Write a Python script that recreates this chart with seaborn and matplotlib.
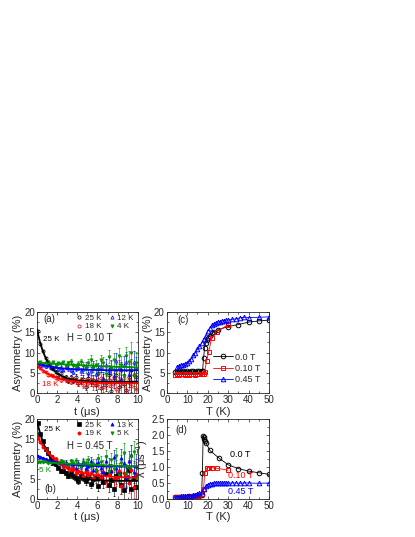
import matplotlib
matplotlib.use("Agg")
import matplotlib.pyplot as plt
import seaborn as sns
from matplotlib.ticker import MultipleLocator

# --- muSR time spectra ---
t = [0.1, 0.35, 0.6, 0.85, 1.1, 1.35, 1.6, 1.85, 2.1, 2.35, 2.6, 2.85, 3.1, 3.35, 3.6, 3.85,
     4.1, 4.35, 4.6, 4.85, 5.1, 5.35, 5.6, 5.85, 6.1, 6.35, 6.6, 6.85, 7.1, 7.35, 7.6, 7.85,
     8.1, 8.35, 8.6, 8.85, 9.1, 9.35, 9.6, 9.85]
err = [0.2, 0.22, 0.24, 0.26, 0.28, 0.3, 0.33, 0.36, 0.39, 0.42, 0.46, 0.5, 0.54, 0.58, 0.63, 0.68,
       0.73, 0.79, 0.85, 0.91, 0.98, 1.05, 1.12, 1.2, 1.28, 1.36, 1.45, 1.54, 1.64, 1.74, 1.84, 1.95,
       2.06, 2.17, 2.28, 2.4, 2.52, 2.64, 2.76, 2.88]

# H = 0.10 T
a_25K = [15.3, 12.0, 10.5, 8.7, 7.7, 6.2, 6.05, 5.24, 4.48, 4.91, 3.87, 3.9, 3.03, 3.87, 3.04, 4.01,
         2.45, 3.05, 3.51, 1.59, 3.81, 2.69, 3.33, 2.02, 4.9, 1.34, 3.27, 2.05, 4.46, 0.55, 3.18, 4.37,
         1.56, 5.62, 2.34, 0.64, 4.06, 5.7, -1.06, 3.95]
a_18K = [6.58, 6.18, 5.53, 5.22, 4.58, 4.48, 4.32, 3.77, 3.73, 3.2, 3.66, 3.12, 3.29, 2.75, 3.39, 2.95,
         2.54, 3.18, 1.99, 2.88, 2.56, 3.28, 1.97, 2.97, 2.29, 3.73, 1.62, 2.66, 3.16, 1.83, 3.89, 1.04,
         2.93, 2.17, 3.66, 0.26, 3.33, 1.79, 4.4, 1.03]
a_12K = [7.42, 7.04, 6.97, 6.57, 6.93, 6.38, 6.44, 6.57, 5.86, 6.29, 5.8, 6.47, 6.11, 5.71, 5.24, 6.19,
         6.41, 5.36, 5.92, 6.78, 5.03, 5.47, 6.79, 4.64, 6.2, 6.55, 3.81, 6.89, 5.39, 6.49, 4.18, 7.99,
         6.14, 3.57, 6.93, 7.76, 4.64, 2.9, 7.64, 6.08]
a_4K = [7.44, 7.56, 7.24, 7.45, 7.57, 7.23, 7.67, 7.05, 7.36, 7.14, 7.56, 6.66, 7.42, 7.78, 6.79, 6.55,
        7.27, 7.69, 6.72, 5.94, 7.51, 8.28, 6.23, 7.02, 5.62, 8.09, 7.36, 4.74, 9.01, 6.15, 8.08, 5.33,
        9.13, 6.89, 4.21, 9.03, 7.77, 9.94, 4.11, 7.36]

# H = 0.45 T
b_25K = [18.9, 16.13, 14.42, 12.56, 11.38, 10.46, 9.05, 8.64, 7.79, 6.93, 7.1, 6.59, 5.79, 6.43, 5.69, 5.19,
         4.54, 5.74, 5.33, 4.46, 5.75, 3.82, 4.95, 5.31, 3.15, 5.53, 4.17, 6.21, 3.41, 4.72, 2.51, 5.65,
         6.2, 3.5, 2.34, 5.49, 7.34, 2.41, 5.17, 2.9]
b_19K = [15.27, 14.25, 13.11, 12.5, 11.51, 10.71, 10.36, 10.01, 9.08, 8.9, 8.03, 8.33, 7.76, 7.33, 7.69, 6.59,
         7.09, 6.76, 5.73, 6.87, 6.09, 6.56, 5.24, 7.03, 5.94, 5.12, 6.64, 4.47, 6.08, 7.03, 4.9, 5.08,
         7.05, 3.3, 6.37, 5.73, 3.96, 7.2, 3.02, 6.33]
b_13K = [10.66, 10.5, 10.34, 9.89, 9.54, 9.65, 9.68, 8.92, 9.2, 9.0, 8.68, 9.29, 8.3, 8.9, 8.66, 7.86,
         8.93, 8.23, 9.13, 7.84, 8.32, 9.47, 7.28, 8.73, 9.15, 7.78, 6.69, 9.42, 8.57, 7.06, 10.37, 7.85,
         6.5, 10.22, 8.87, 5.25, 9.54, 10.87, 6.8, 8.35]
b_5K = [9.31, 9.12, 9.32, 9.39, 9.09, 8.87, 9.3, 9.15, 8.78, 9.45, 9.21, 8.79, 8.36, 9.38, 9.06, 9.47,
        8.44, 8.02, 9.31, 9.07, 9.86, 7.92, 8.76, 7.23, 9.98, 9.3, 8.28, 10.59, 7.0, 9.7, 7.6, 10.86,
        5.96, 8.93, 11.59, 6.34, 7.8, 10.83, 11.68, 5.32]

# fitted curves
t_fit = [0, 0.25, 0.5, 0.75, 1, 1.25, 1.5, 2, 2.5, 3, 3.5, 4, 5, 6, 7, 8, 9, 10]
fa_25K = [15.7, 13.08, 10.99, 9.32, 8.0, 6.94, 6.1, 4.89, 4.13, 3.64, 3.33, 3.14, 2.94, 2.85, 2.82, 2.81, 2.8, 2.8]
fa_18K = [6.9, 6.28, 5.75, 5.3, 4.9, 4.56, 4.26, 3.79, 3.43, 3.17, 2.97, 2.83, 2.64, 2.53, 2.47, 2.44, 2.42, 2.41]
fa_12K = [7.4, 7.19, 7.0, 6.84, 6.69, 6.56, 6.45, 6.26, 6.12, 6.0, 5.91, 5.84, 5.75, 5.69, 5.65, 5.63, 5.62, 5.61]
fa_4K = [7.5, 7.46, 7.42, 7.38, 7.34, 7.3, 7.26, 7.19, 7.12, 7.05, 6.98, 6.92, 6.8, 6.68, 6.58, 6.48, 6.4, 6.32]
fb_25K = [19.5, 17.04, 14.99, 13.28, 11.84, 10.64, 9.64, 8.1, 7.02, 6.26, 5.73, 5.36, 4.92, 4.71, 4.6, 4.55, 4.52, 4.51]
fb_19K = [15.7, 14.57, 13.57, 12.67, 11.87, 11.15, 10.51, 9.43, 8.57, 7.88, 7.34, 6.9, 6.28, 5.89, 5.64, 5.48, 5.38, 5.31]
fb_13K = [10.9, 10.57, 10.28, 10.02, 9.8, 9.6, 9.42, 9.13, 8.9, 8.72, 8.59, 8.48, 8.33, 8.24, 8.18, 8.15, 8.13, 8.12]
fb_5K = [9.3, 9.26, 9.22, 9.18, 9.14, 9.1, 9.06, 8.98, 8.91, 8.84, 8.77, 8.71, 8.6, 8.49, 8.39, 8.3, 8.22, 8.15]

# --- temperature dependence ---
T_00 = [4, 5, 6, 7, 8, 9, 10, 11, 12, 13, 14, 15, 16, 17, 17.5, 18, 18.5, 19, 19.5, 20, 21, 22, 23,
        25, 30, 35, 40, 45, 50]
A_00 = [5.3, 5.2, 5.4, 5.3, 5.5, 5.3, 5.4, 5.3, 5.5, 5.4, 5.3, 5.4, 5.5, 5.4, 5.5, 8.7, 11.2, 12.3, 13.0,
        13.5, 14.2, 14.7, 15.1, 15.6, 16.4, 16.9, 17.5, 17.8, 18.0]
T_10 = [4, 5, 6, 7, 8, 9, 10, 11, 12, 13, 14, 15, 16, 17, 18, 18.5, 19.5, 20.5, 22, 24.5, 30]
A_10 = [4.5, 4.6, 4.5, 4.6, 4.6, 4.5, 4.6, 4.5, 4.6, 4.6, 4.5, 4.6, 4.6, 4.6, 4.7, 5.2, 8.0, 10.2,
        13.7, 15.1, 16.9]
T_45 = [5, 6, 7, 8, 9, 10, 11, 12, 13, 14, 15, 16, 17, 18, 19, 20, 21, 22, 23, 24, 25, 26, 27, 28,
        29, 30, 32, 34, 36, 38, 40, 45, 50]
A_45 = [6.5, 6.7, 6.9, 7.0, 7.2, 7.4, 7.8, 8.5, 9.3, 10.0, 10.8, 11.5, 12.4, 13.3, 14.2, 15.3, 16.0,
        16.7, 17.0, 17.3, 17.5, 17.6, 17.8, 17.9, 18.0, 18.0, 18.2, 18.3, 18.6, 18.7, 18.6, 18.7, 18.8]

T_l00 = [4, 5, 6, 7, 8, 9, 10, 11, 12, 13, 14, 15, 16, 17, 17.4, 17.8, 18.1, 18.4, 18.8, 19.2, 21,
         25.5, 30, 35, 40, 45, 50]
L_00 = [0.05, 0.06, 0.05, 0.06, 0.07, 0.06, 0.07, 0.08, 0.07, 0.08, 0.09, 0.1, 0.1, 0.12, 0.8, 1.97,
        1.95, 1.88, 1.8, 1.76, 1.52, 1.28, 1.07, 0.95, 0.87, 0.82, 0.77]
T_l10 = [4, 5, 6, 7, 8, 9, 10, 11, 12, 13, 14, 15, 16, 17, 18, 18.5, 19.5, 20.5, 22, 24.5, 30]
L_10 = [0.05, 0.05, 0.06, 0.05, 0.06, 0.06, 0.07, 0.07, 0.08, 0.08, 0.09, 0.1, 0.12, 0.15, 0.3, 0.8,
        0.97, 0.98, 0.98, 0.96, 0.9]
T_l45 = [4, 5, 6, 7, 8, 9, 10, 11, 12, 13, 14, 15, 16, 17, 18, 19, 20, 21, 22, 23, 24, 25, 26, 27, 28,
         29, 30, 32, 34, 36, 38, 40, 45, 50]
L_45 = [0.06, 0.07, 0.07, 0.08, 0.08, 0.09, 0.09, 0.1, 0.1, 0.12, 0.13, 0.15, 0.18, 0.22, 0.3, 0.4,
        0.45, 0.47, 0.48, 0.5, 0.49, 0.5, 0.5, 0.49, 0.5, 0.5, 0.49, 0.5, 0.5, 0.49, 0.5, 0.5, 0.49, 0.5]

BLK, RED, BLU, GRN = "black", "#ff0000", "#0000ff", "#009000"

sns.set_style("ticks")
plt.rcParams["font.family"] = ["Liberation Sans", "DejaVu Sans"]
plt.rcParams["mathtext.fontset"] = "custom"
plt.rcParams["mathtext.rm"] = "Liberation Sans"
plt.rcParams["mathtext.it"] = "Liberation Sans:italic"

fig = plt.figure(figsize=(4.15, 5.37), dpi=100)
ax_a = fig.add_axes([0.089, 0.268, 0.243, 0.151])
ax_c = fig.add_axes([0.402, 0.268, 0.246, 0.151])
ax_b = fig.add_axes([0.089, 0.0708, 0.243, 0.149])
ax_d = fig.add_axes([0.402, 0.0708, 0.246, 0.149])


def style(ax, xmaj, xmin, ymaj, ymin):
    ax.xaxis.set_major_locator(MultipleLocator(xmaj))
    ax.xaxis.set_minor_locator(MultipleLocator(xmin))
    ax.yaxis.set_major_locator(MultipleLocator(ymaj))
    ax.yaxis.set_minor_locator(MultipleLocator(ymin))
    ax.tick_params(which="both", direction="in", top=True, right=True, width=0.5,
                   labelsize=7, pad=1.5)
    ax.tick_params(which="major", length=2.5)
    ax.tick_params(which="minor", length=1.3)
    for s in ax.spines.values():
        s.set_linewidth(0.6)


def spectra(ax, series, fits):
    handles = []
    for y, col, mk, filled, lab in series:
        eb = ax.errorbar(t, y, yerr=err, fmt=mk, ms=2.3, mec=col, ecolor=col,
                         mfc=col if filled else "none", mew=0.5, elinewidth=0.4,
                         capsize=0.8, capthick=0.4, zorder=2)
        eb[0].set_label(lab)
        handles.append(eb[0])
    for yf, col in fits:
        sns.lineplot(x=t_fit, y=yf, color=col, lw=1.3, ax=ax, estimator=None, zorder=4)
    ax.legend(handles=handles, ncol=2, loc="upper right", bbox_to_anchor=(1.0, 1.02),
              frameon=False, fontsize=5.8, handletextpad=0.1, columnspacing=0.7,
              borderaxespad=0.1, labelspacing=0.1, handlelength=1.2)
    ax.set_xlim(0, 10)
    ax.set_ylim(0, 20)
    ax.set_xlabel("t (μs)", fontsize=8, labelpad=1)
    ax.set_ylabel("Asymmetry (%)", fontsize=8, labelpad=1)
    style(ax, 2, 1, 5, 2.5)


spectra(ax_a,
        [(a_25K, BLK, "o", False, "25 K"), (a_18K, RED, "o", False, "18 K"),
         (a_12K, BLU, "^", False, "12 K"), (a_4K, GRN, "v", True, "4 K")],
        [(fa_25K, BLK), (fa_18K, RED), (fa_12K, BLU), (fa_4K, GRN)])
ax_a.text(0.6, 17.5, "(a)", fontsize=7)
ax_a.text(0.6, 12.9, "25 K", fontsize=5.8, color=BLK)
ax_a.text(3.0, 12.9, "H = 0.10 T", fontsize=7)
ax_a.text(0.5, 1.7, "18 K", fontsize=5.8, color=RED)

spectra(ax_b,
        [(b_25K, BLK, "s", True, "25 K"), (b_19K, RED, "o", True, "19 K"),
         (b_13K, BLU, "^", True, "13 K"), (b_5K, GRN, "v", True, "5 K")],
        [(fb_25K, BLK), (fb_19K, RED), (fb_13K, BLU), (fb_5K, GRN)])
ax_b.text(0.7, 16.9, "25 K", fontsize=5.8, color=BLK)
ax_b.text(3.0, 12.4, "H = 0.45 T", fontsize=7)
ax_b.text(0.25, 6.8, "5 K", fontsize=5.8, color=GRN)
ax_b.text(0.7, 1.8, "(b)", fontsize=7)

# (c) asymmetry vs T
for T, A, col, mk, lab in [(T_00, A_00, BLK, "o", "0.0 T"), (T_10, A_10, RED, "s", "0.10 T"),
                           (T_45, A_45, BLU, "^", "0.45 T")]:
    sns.lineplot(x=T, y=A, color=col, marker=mk, ms=3.3, mfc="none", mec=col, mew=0.7,
                 lw=0.6, ax=ax_c, estimator=None, label=lab)
ax_c.legend(loc="lower right", frameon=False, fontsize=6.5, handlelength=2.2,
            handletextpad=0.2, labelspacing=0.25, borderaxespad=0.6)
ax_c.set_xlim(0, 50)
ax_c.set_ylim(0, 20)
ax_c.set_xlabel("T (K)", fontsize=8, labelpad=1)
ax_c.set_ylabel("Asymmetry (%)", fontsize=8, labelpad=1)
ax_c.text(5, 17.2, "(c)", fontsize=7)
style(ax_c, 10, 5, 5, 2.5)

# (d) relaxation rate vs T
for T, L, col, mk in [(T_l00, L_00, BLK, "o"), (T_l10, L_10, RED, "s"), (T_l45, L_45, BLU, "^")]:
    sns.lineplot(x=T, y=L, color=col, marker=mk, ms=3.3, mfc="none", mec=col, mew=0.7,
                 lw=0.6, ax=ax_d, estimator=None)
ax_d.set_xlim(0, 50)
ax_d.set_ylim(0, 2.5)
ax_d.set_xlabel("T (K)", fontsize=8, labelpad=1)
ax_d.set_ylabel("λ (μs$^{-1}$)", fontsize=8, labelpad=1)
ax_d.text(4, 2.05, "(d)", fontsize=7)
ax_d.text(31, 1.3, "0.0 T", fontsize=6.5, color=BLK)
ax_d.text(30, 0.65, "0.10 T", fontsize=6.5, color=RED)
ax_d.text(30, 0.15, "0.45 T", fontsize=6.5, color=BLU)
style(ax_d, 10, 5, 0.5, 0.25)

fig.savefig("out.png", dpi=100)
